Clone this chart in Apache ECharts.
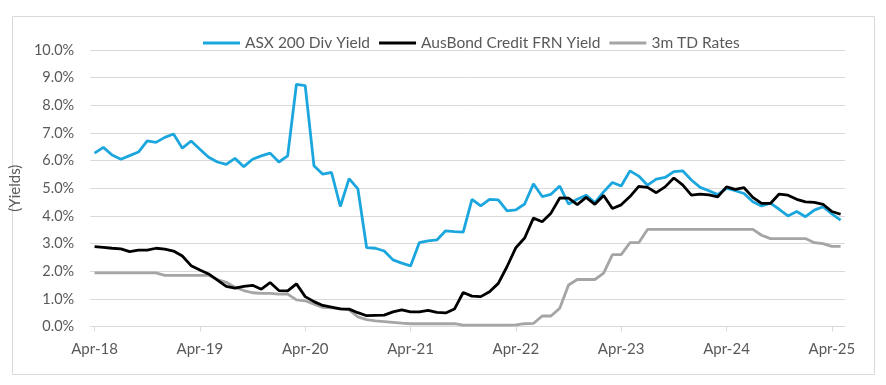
<!DOCTYPE html>
<html>
<head>
<meta charset="utf-8">
<script src="https://cdn.jsdelivr.net/npm/echarts@6/dist/echarts.min.js"></script>
<style>html,body{margin:0;padding:0;background:#fff;}#c{width:886px;height:385px;}</style>
</head>
<body>
<div id="c"></div>
<script>
// Monthly categories Apr-18 .. May-25
const monthNames = ['Jan','Feb','Mar','Apr','May','Jun','Jul','Aug','Sep','Oct','Nov','Dec'];
const categories = [];
for (let k = 0; k < 86; k++) {
  const m = (3 + k) % 12;
  const y = 18 + Math.floor((3 + k) / 12);
  categories.push(monthNames[m] + '-' + y);
}
const seriesNames = ['ASX 200 Div Yield', 'AusBond Credit FRN Yield', '3m TD Rates'];
const asxDivYield = [
  6.27, 6.48, 6.20, 6.05, 6.18, 6.31, 6.71, 6.66, 6.84, 6.96,
  6.45, 6.71, 6.41, 6.12, 5.95, 5.86, 6.08, 5.78, 6.05, 6.17,
  6.27, 5.95, 6.17, 8.76, 8.71, 5.81, 5.51, 5.57, 4.34, 5.35,
  4.98, 2.85, 2.83, 2.73, 2.41, 2.29, 2.19, 3.03, 3.10, 3.13,
  3.46, 3.43, 3.41, 4.60, 4.36, 4.60, 4.58, 4.18, 4.22, 4.43,
  5.16, 4.70, 4.78, 5.08, 4.43, 4.60, 4.75, 4.48, 4.87, 5.21,
  5.08, 5.63, 5.44, 5.11, 5.33, 5.39, 5.60, 5.63, 5.30, 5.03,
  4.91, 4.77, 5.00, 4.91, 4.81, 4.51, 4.36, 4.46, 4.24, 4.00,
  4.16, 3.97, 4.21, 4.33, 4.07, 3.85
];
const ausBondFrnYield = [
  2.89, 2.86, 2.83, 2.81, 2.71, 2.76, 2.76, 2.83, 2.80, 2.73,
  2.55, 2.20, 2.04, 1.90, 1.68, 1.45, 1.39, 1.45, 1.49, 1.35,
  1.59, 1.30, 1.29, 1.54, 1.08, 0.90, 0.76, 0.70, 0.64, 0.63,
  0.50, 0.39, 0.40, 0.41, 0.53, 0.60, 0.53, 0.53, 0.58, 0.51,
  0.49, 0.63, 1.23, 1.10, 1.08, 1.26, 1.56, 2.17, 2.85, 3.20,
  3.92, 3.79, 4.10, 4.65, 4.64, 4.41, 4.67, 4.42, 4.74, 4.27,
  4.40, 4.70, 5.07, 5.03, 4.84, 5.05, 5.37, 5.12, 4.75, 4.79,
  4.76, 4.69, 5.05, 4.96, 5.02, 4.67, 4.45, 4.45, 4.79, 4.75,
  4.60, 4.51, 4.49, 4.42, 4.16, 4.06
];
const tdRates3m = [
  1.94, 1.94, 1.94, 1.94, 1.94, 1.94, 1.94, 1.94, 1.85, 1.85,
  1.85, 1.85, 1.85, 1.85, 1.70, 1.60, 1.42, 1.30, 1.22, 1.20,
  1.20, 1.17, 1.17, 0.96, 0.93, 0.81, 0.69, 0.67, 0.64, 0.60,
  0.35, 0.25, 0.20, 0.18, 0.15, 0.12, 0.10, 0.10, 0.10, 0.10,
  0.10, 0.10, 0.05, 0.05, 0.05, 0.05, 0.05, 0.05, 0.06, 0.10,
  0.11, 0.38, 0.38, 0.66, 1.50, 1.70, 1.70, 1.70, 1.93, 2.60,
  2.60, 3.03, 3.03, 3.51, 3.51, 3.51, 3.51, 3.51, 3.51, 3.51,
  3.51, 3.51, 3.51, 3.51, 3.51, 3.51, 3.30, 3.18, 3.18, 3.18,
  3.18, 3.18, 3.03, 3.00, 2.90, 2.90
];
const colors = ['#1BA7DE', '#000000', '#A5A5A5'];

const chart = echarts.init(document.getElementById('c'), null, {renderer: 'canvas'});
const font = 'Lato, "Open Sans", sans-serif';
const option = {
  backgroundColor: '#ffffff',
  animation: false,
  graphic: [{
    type: 'rect', left: 10, top: 14, silent: true,
    shape: {width: 862, height: 358},
    style: {fill: 'none', stroke: '#d9d9d9', lineWidth: 1}
  }],
  legend: {
    top: 30, left: 198,
    icon: 'rect', itemWidth: 37, itemHeight: 3, itemGap: 9,
    textStyle: {fontFamily: font, fontSize: 15.5, color: '#595959'},
    data: seriesNames
  },
  grid: {left: 86, right: 41, top: 50, bottom: 58.5, containLabel: false},
  xAxis: {
    type: 'category',
    data: categories,
    boundaryGap: true,
    axisLine: {lineStyle: {color: '#d9d9d9', width: 1}},
    axisTick: {show: true, alignWithLabel: true, length: 5, lineStyle: {color: '#d9d9d9'},
      interval: function (i) { return i % 12 === 0; }},
    axisLabel: {
      interval: function (i) { return i % 12 === 0; },
      fontFamily: font, fontSize: 15, color: '#595959', margin: 15
    },
    splitLine: {show: false}
  },
  yAxis: {
    type: 'value', min: 0, max: 10, interval: 1,
    name: '(Yields)', nameLocation: 'middle', nameGap: 56, nameRotate: 90,
    nameTextStyle: {fontFamily: font, fontSize: 15, color: '#595959'},
    axisLine: {show: false}, axisTick: {show: false},
    axisLabel: {formatter: function (v) { return v.toFixed(1) + '%'; },
      fontFamily: font, fontSize: 14.5, color: '#595959', margin: 16},
    splitLine: {lineStyle: {color: '#d9d9d9', width: 1}}
  },
  series: [
    {name: seriesNames[0], type: 'line', data: asxDivYield, showSymbol: false, symbol: 'none',
     lineStyle: {color: colors[0], width: 2.8}, itemStyle: {color: colors[0]}, z: 3},
    {name: seriesNames[1], type: 'line', data: ausBondFrnYield, showSymbol: false, symbol: 'none',
     lineStyle: {color: colors[1], width: 2.8}, itemStyle: {color: colors[1]}, z: 4},
    {name: seriesNames[2], type: 'line', data: tdRates3m, showSymbol: false, symbol: 'none',
     lineStyle: {color: colors[2], width: 2.8}, itemStyle: {color: colors[2]}, z: 2}
  ]
};
chart.setOption(option);
</script>
</body>
</html>
